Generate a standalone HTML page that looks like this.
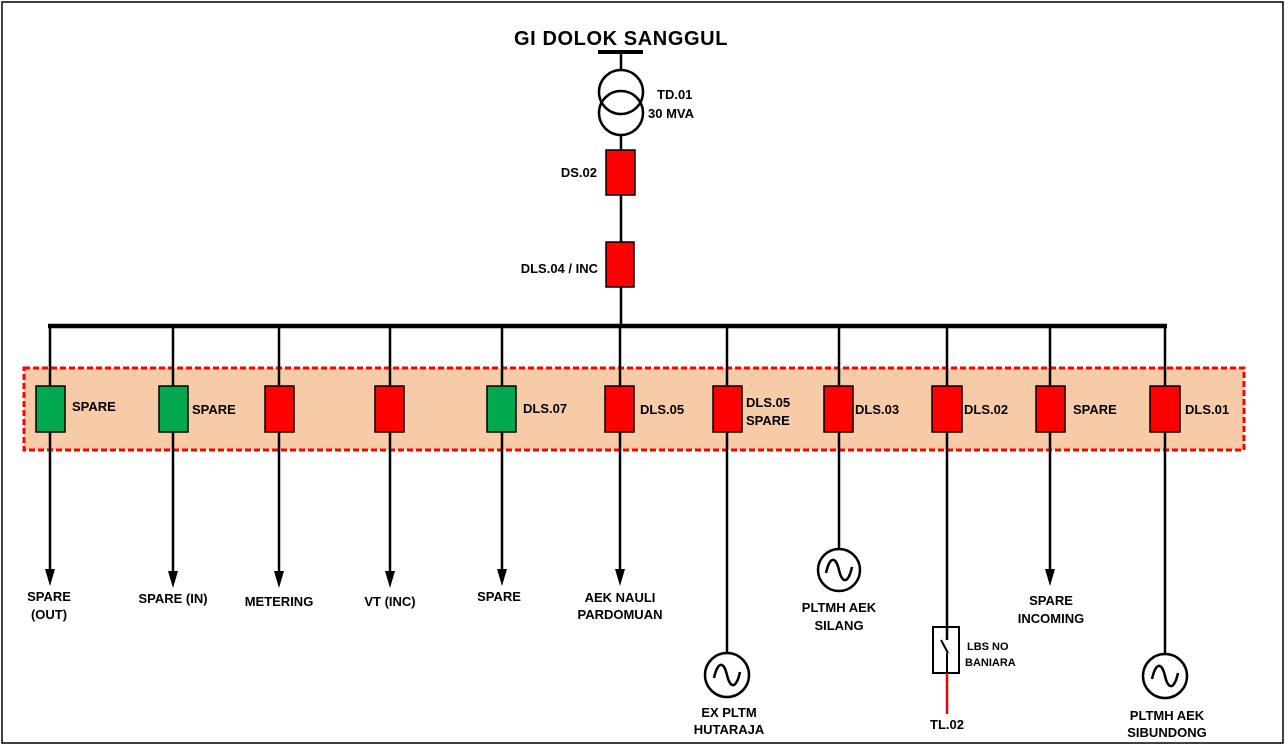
<!DOCTYPE html>
<html><head><meta charset="utf-8"><style>
body{margin:0;background:#fff}
svg{display:block}
text{font-family:"Liberation Sans",Arial,sans-serif;font-weight:bold;font-size:13px;fill:#000}
</style></head><body>
<svg width="1288" height="746" viewBox="0 0 1288 746" xmlns="http://www.w3.org/2000/svg">
<rect x="2" y="2" width="1281" height="741" fill="#fff" stroke="#000" stroke-width="1.5"/>
<text x="621" y="45" text-anchor="middle" style="font-size:20px;letter-spacing:0.6px">GI DOLOK SANGGUL</text>
<line x1="598" y1="52" x2="643" y2="52" stroke="#000" stroke-width="4"/>
<line x1="621" y1="52" x2="621" y2="326" stroke="#000" stroke-width="2.5"/>
<circle cx="621" cy="92" r="22" fill="#fff"/>
<circle cx="621" cy="113" r="22" fill="#fff"/>
<circle cx="621" cy="92" r="22" fill="none" stroke="#000" stroke-width="2.5"/>
<circle cx="621" cy="113" r="22" fill="none" stroke="#000" stroke-width="2.5"/>
<text x="657" y="99">TD.01</text><text x="648" y="118">30 MVA</text>
<rect x="606" y="150" width="29" height="45" fill="#f00" stroke="#000" stroke-width="1.5"/>
<text x="597" y="177" text-anchor="end">DS.02</text>
<rect x="606" y="242" width="28" height="45" fill="#f00" stroke="#000" stroke-width="1.5"/>
<text x="598" y="273" text-anchor="end">DLS.04 / INC</text>
<line x1="48" y1="326" x2="1167" y2="326" stroke="#000" stroke-width="4.5"/>
<rect x="24" y="368" width="1220" height="82" fill="#f8cba8" stroke="#f00" stroke-width="3" stroke-dasharray="6,3"/>
<g stroke="#000" stroke-width="2.5">
<line x1="50" y1="326" x2="50" y2="572"/>
<line x1="173" y1="326" x2="173" y2="574"/>
<line x1="279" y1="326" x2="279" y2="574"/>
<line x1="390" y1="326" x2="390" y2="574"/>
<line x1="502" y1="326" x2="502" y2="572"/>
<line x1="620" y1="326" x2="620" y2="572"/>
<line x1="1050" y1="326" x2="1050" y2="572"/>
<line x1="727" y1="326" x2="727" y2="653"/>
<line x1="839" y1="326" x2="839" y2="549"/>
<line x1="947" y1="326" x2="947" y2="673"/>
<line x1="1165" y1="326" x2="1165" y2="654"/>
</g>
<g fill="#000">
<polygon points="45,569 55,569 50,586"/>
<polygon points="168,571 178,571 173,588"/>
<polygon points="274,571 284,571 279,588"/>
<polygon points="385,571 395,571 390,588"/>
<polygon points="497,569 507,569 502,586"/>
<polygon points="615,569 625,569 620,586"/>
<polygon points="1045,569 1055,569 1050,586"/>
</g>
<g stroke="#000" stroke-width="1.5">
<rect x="36" y="386" width="29" height="46" fill="#00a850"/>
<rect x="159" y="386" width="29" height="46" fill="#00a850"/>
<rect x="265" y="386" width="29" height="46" fill="#f00"/>
<rect x="375" y="386" width="29" height="46" fill="#f00"/>
<rect x="487" y="386" width="29" height="46" fill="#00a850"/>
<rect x="605" y="386" width="29" height="46" fill="#f00"/>
<rect x="713" y="386" width="29" height="46" fill="#f00"/>
<rect x="824" y="386" width="29" height="46" fill="#f00"/>
<rect x="932" y="386" width="30" height="46" fill="#f00"/>
<rect x="1036" y="386" width="29" height="46" fill="#f00"/>
<rect x="1150" y="386" width="30" height="46" fill="#f00"/>
</g>
<text x="72" y="411">SPARE</text>
<text x="192" y="414">SPARE</text>
<text x="523" y="413">DLS.07</text>
<text x="640" y="414">DLS.05</text>
<text x="746" y="407">DLS.05</text><text x="746" y="425">SPARE</text>
<text x="855" y="414">DLS.03</text>
<text x="964" y="414">DLS.02</text>
<text x="1073" y="414">SPARE</text>
<text x="1185" y="414">DLS.01</text>
<g text-anchor="middle">
<text x="49" y="601">SPARE</text><text x="49" y="619">(OUT)</text>
<text x="173" y="603">SPARE (IN)</text>
<text x="279" y="606">METERING</text>
<text x="390" y="606">VT (INC)</text>
<text x="499" y="601">SPARE</text>
<text x="620" y="602">AEK NAULI</text><text x="620" y="619">PARDOMUAN</text>
<text x="1051" y="605">SPARE</text><text x="1051" y="623">INCOMING</text>
<text x="839" y="612">PLTMH AEK</text><text x="839" y="630">SILANG</text>
<text x="729" y="717">EX PLTM</text><text x="729" y="734">HUTARAJA</text>
<text x="1167" y="720">PLTMH AEK</text><text x="1167" y="737">SIBUNDONG</text>
<text x="947" y="729">TL.02</text>
</g>
<g fill="#fff" stroke="#000" stroke-width="2.5">
<circle cx="727" cy="675" r="22"/>
<circle cx="839" cy="570" r="21"/>
<circle cx="1165" cy="676" r="22"/>
</g>
<g fill="none" stroke="#000" stroke-width="2.5">
<path d="M714,678 C718,660 724,662 727,675 C730,688 736,690 740,672"/>
<path d="M826,573 C830,555 836,557 839,570 C842,583 848,585 852,567"/>
<path d="M1152,679 C1156,661 1162,663 1165,676 C1168,689 1174,691 1178,673"/>
</g>
<rect x="933" y="627" width="26" height="46" fill="#fff" stroke="#000" stroke-width="2"/>
<line x1="947" y1="627" x2="947" y2="640" stroke="#000" stroke-width="2.5"/>
<line x1="941" y1="640" x2="948" y2="653" stroke="#000" stroke-width="2"/>
<line x1="947" y1="653" x2="947" y2="673" stroke="#000" stroke-width="2"/>
<line x1="947" y1="673" x2="947" y2="714" stroke="#e00" stroke-width="2.5"/>
<text x="967" y="650" style="font-size:11px">LBS NO</text>
<text x="965" y="666" style="font-size:11px">BANIARA</text>
</svg>
</body></html>
